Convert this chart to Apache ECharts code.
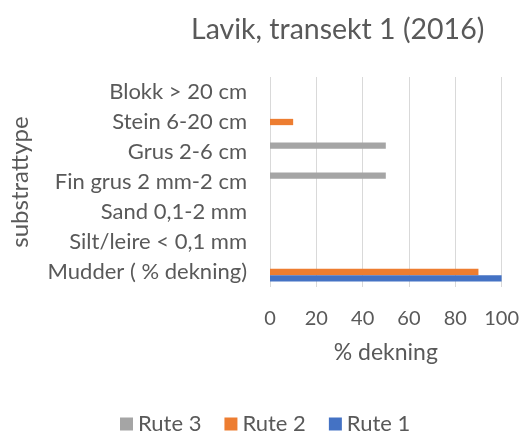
<!DOCTYPE html>
<html>
<head>
<meta charset="utf-8">
<script src="https://cdn.jsdelivr.net/npm/echarts@6/dist/echarts.min.js"></script>
<style>
  html, body { margin: 0; padding: 0; background: #ffffff; }
  #chart { width: 522px; height: 435px; }
</style>
</head>
<body>
<div id="chart"></div>
<script>
// Substrate categories, listed bottom to top
const categories = [
  'Mudder ( % dekning)',
  'Silt/leire < 0,1 mm',
  'Sand 0,1-2 mm',
  'Fin grus 2 mm-2 cm',
  'Grus 2-6 cm',
  'Stein 6-20 cm',
  'Blokk > 20 cm'
];

// % cover per route (null = no registration)
const rute1 = [100, null, null, null, null, null, null];
const rute2 = [90, null, null, null, null, 10, null];
const rute3 = [null, null, null, 50, 50, null, null];

const xTicks = [0, 20, 40, 60, 80, 100];

const FONT = 'Lato';
const TEXT = '#595959';

// Series listed top-to-bottom within each category band
const seriesList = [
  { name: 'Rute 3', data: rute3, color: '#A5A5A5' },
  { name: 'Rute 2', data: rute2, color: '#ED7D31' },
  { name: 'Rute 1', data: rute1, color: '#4472C4' }
];

const chart = echarts.init(document.getElementById('chart'), null, { renderer: 'canvas' });

chart.setOption({
  animation: false,
  textStyle: { fontFamily: FONT, color: TEXT },
  title: {
    text: 'Lavik, transekt 1 (2016)',
    left: 191,
    top: 15,
    padding: 0,
    textStyle: { fontFamily: FONT, fontSize: 28.5, fontWeight: 'normal', color: TEXT }
  },
  legend: {
    data: seriesList.map(s => s.name),
    left: 115,
    top: 408,
    itemWidth: 13,
    itemHeight: 13,
    itemGap: 23,
    icon: 'rect',
    textStyle: { fontFamily: FONT, fontSize: 22, color: TEXT }
  },
  grid: { left: 270, right: 20, top: 77, bottom: 148, containLabel: false },
  xAxis: {
    type: 'value',
    min: xTicks[0],
    max: xTicks[xTicks.length - 1],
    interval: xTicks[1] - xTicks[0],
    name: '% dekning',
    nameLocation: 'middle',
    nameGap: 54,
    nameTextStyle: { fontFamily: FONT, fontSize: 23, color: TEXT },
    axisLine: { show: false },
    axisTick: { show: false },
    axisLabel: { fontFamily: FONT, fontSize: 20, color: TEXT, margin: 22 },
    splitLine: { show: true, lineStyle: { color: '#D9D9D9', width: 1 } }
  },
  yAxis: {
    type: 'category',
    data: categories,
    name: 'substrattype',
    nameLocation: 'middle',
    nameGap: 238,
    nameRotate: 90,
    nameTextStyle: { fontFamily: FONT, fontSize: 24, color: TEXT },
    axisLine: { show: false },
    axisTick: { show: false },
    axisLabel: { fontFamily: FONT, fontSize: 22, color: TEXT, margin: 23 },
    splitLine: { show: false }
  },
  series: seriesList.map(s => ({
    name: s.name,
    type: 'bar',
    data: s.data,
    barWidth: '21%',
    barGap: '0%',
    itemStyle: { color: s.color }
  }))
});
</script>
</body>
</html>
